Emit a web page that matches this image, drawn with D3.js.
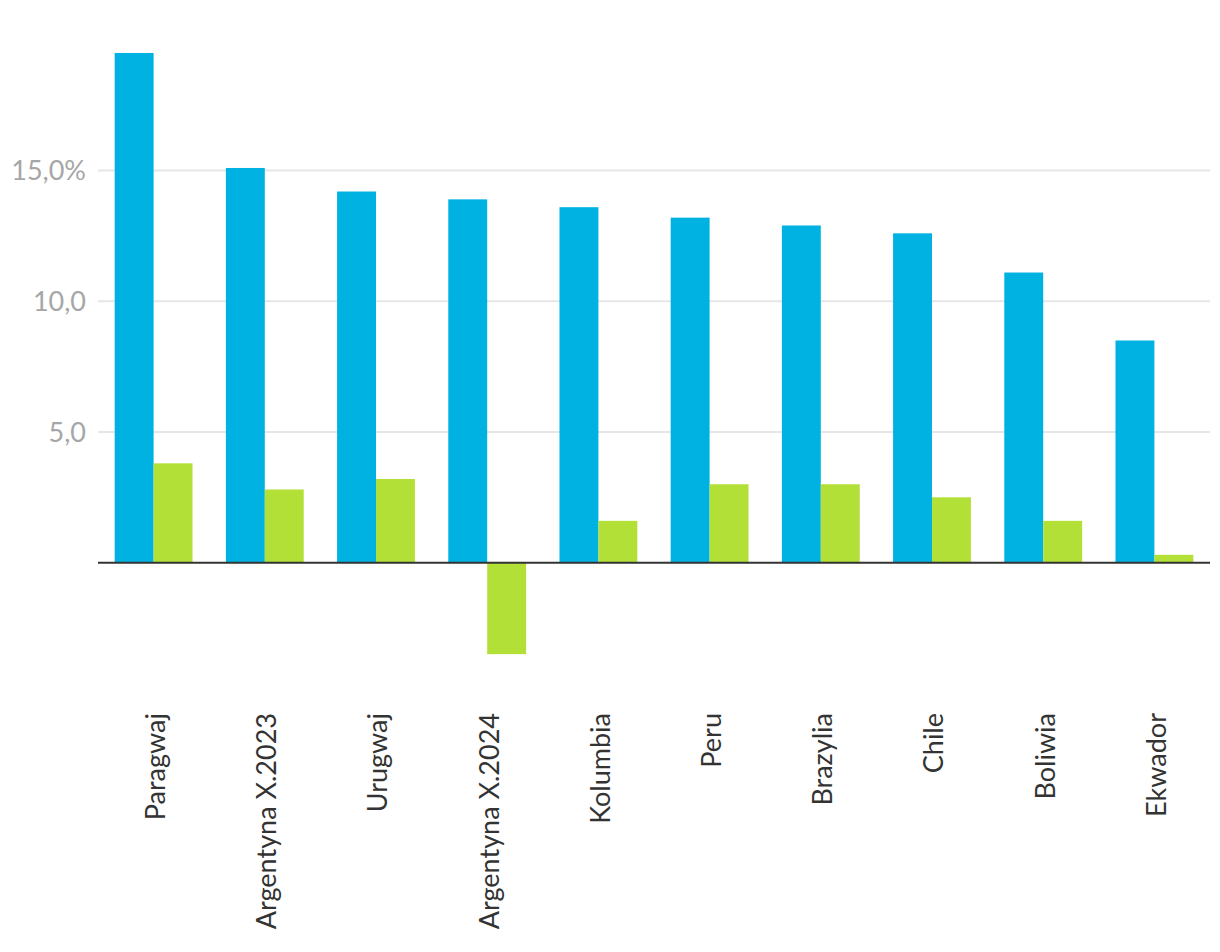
<!DOCTYPE html>
<html><head><meta charset="utf-8">
<script src="https://cdn.jsdelivr.net/npm/d3@7"></script>
<style>body{margin:0;background:#fff;}</style>
</head><body>
<svg id="c" width="1220" height="952"></svg>
<script>
const categories = ["Paragwaj","Argentyna X.2023","Urugwaj","Argentyna X.2024","Kolumbia","Peru","Brazylia","Chile","Boliwia","Ekwador"];
const seriesA = [19.5,15.1,14.2,13.9,13.6,13.2,12.9,12.6,11.1,8.5];
const seriesB = [3.8,2.8,3.2,-3.5,1.6,3.0,3.0,2.5,1.6,0.3];
const yTicks = [5,10,15];
const yTickLabels = ["5,0","10,0","15,0%"];
const colors = ["#00b2e2","#b2e036"];

const svg = d3.select("#c");
const left = 98, right = 1210;
const x = d3.scaleBand().domain(categories).range([left,right]).paddingInner(0.3).paddingOuter(0.15);
const x1 = d3.scaleBand().domain([0,1]).range([0,x.bandwidth()]);
const y = d3.scaleLinear().domain([-6,20]).range([719.5,39.9]);

const font = "Lato, 'Open Sans', sans-serif";

// grid
svg.append("g").selectAll("line").data(yTicks).join("line")
  .attr("x1",left).attr("x2",right)
  .attr("y1",d=>y(d)).attr("y2",d=>y(d))
  .attr("stroke","#e6e6e6").attr("stroke-width",2);
svg.append("g").selectAll("text").data(yTicks).join("text")
  .attr("x",86).attr("y",d=>y(d)).attr("dy","0.36em")
  .attr("text-anchor","end").attr("font-family",font).attr("font-size",27)
  .attr("fill","#a6a6a6").text((d,i)=>yTickLabels[i]);

const data = categories.map((c,i)=>({c, v:[seriesA[i],seriesB[i]]}));
const g = svg.append("g").selectAll("g").data(data).join("g")
  .attr("transform",d=>`translate(${x(d.c)},0)`);
g.selectAll("rect").data(d=>d.v.map((v,k)=>({v,k}))).join("rect")
  .attr("x",d=>x1(d.k)).attr("width",x1.bandwidth())
  .attr("y",d=>y(Math.max(0,d.v))).attr("height",d=>Math.abs(y(d.v)-y(0)))
  .attr("fill",d=>colors[d.k]);

// zero line
svg.append("line").attr("x1",left).attr("x2",right).attr("y1",y(0)).attr("y2",y(0))
  .attr("stroke","#333").attr("stroke-width",2);

// x labels
svg.append("g").selectAll("text").data(categories).join("text")
  .attr("transform",d=>`translate(${x(d)+x.bandwidth()/2+2},713) rotate(-90)`)
  .attr("dy","0.35em").attr("text-anchor","end")
  .attr("font-family",font).attr("font-size",27).attr("fill","#333").text(d=>d);
</script>
</body></html>
